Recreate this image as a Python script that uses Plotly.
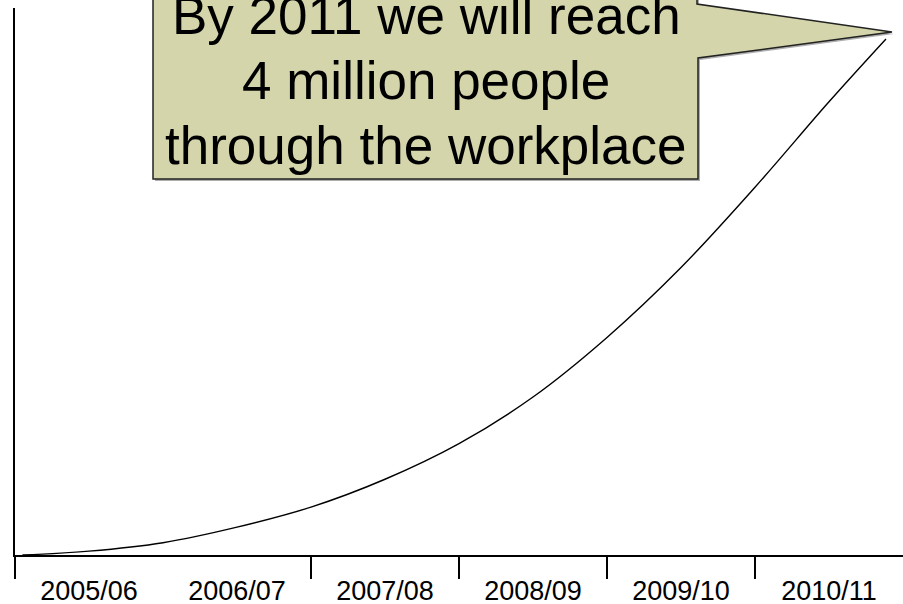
import plotly.graph_objects as go

# ---- data ----
categories = ["2005/06", "2006/07", "2007/08", "2008/09", "2009/10", "2010/11"]
category_pos = [0.5, 1.5, 2.5, 3.5, 4.5, 5.5]
boundary_ticks = [0, 2, 3, 4, 5]

year_pos = [0.05, 0.5, 1.0, 1.5, 2.0, 2.5, 3.0, 3.5, 4.0, 4.5, 5.0, 5.5, 5.885]
people_millions = [0.0, 0.03, 0.095, 0.215, 0.37, 0.585, 0.86, 1.22, 1.68, 2.22, 2.84, 3.50, 3.985]

callout_lines = ["By 2011 we will reach", "4 million people", "through the workplace"]

W, H = 903, 604
ML, MR, MT, MB = 15, 0, 8, 49
PW, PH = W - ML - MR, H - MT - MB


def px(x):
    return (x - ML) / PW


def py(y):
    return (H - MB - y) / PH


fig = go.Figure()
fig.add_trace(go.Scatter(
    x=year_pos, y=people_millions, mode="lines",
    line=dict(color="black", width=1.4, shape="spline", smoothing=1.0),
    hoverinfo="skip", showlegend=False,
))

# callout balloon
pts = [(153, -20), (697, -20), (697, 4), (892, 32), (698, 58), (698, 179), (153, 179)]
shadow = "M " + " L ".join(f"{px(x + 2):.5f},{py(y + 2):.5f}" for x, y in pts) + " Z"
path = "M " + " L ".join(f"{px(x):.5f},{py(y):.5f}" for x, y in pts) + " Z"
fig.add_shape(type="path", path=shadow, xref="paper", yref="paper",
              fillcolor="rgba(120,120,120,0.6)", line=dict(width=0), layer="above")
fig.add_shape(type="path", path=path, xref="paper", yref="paper",
              fillcolor="#D5D5AB", line=dict(color="#222222", width=1.5), layer="above")

baselines = [35, 100, 165]
for txt, b in zip(callout_lines, baselines):
    fig.add_annotation(
        text=txt, xref="paper", yref="paper", x=px(426), y=py(b + 12),
        xanchor="center", yanchor="bottom", showarrow=False,
        font=dict(family="Liberation Sans, Arial, sans-serif", size=53, color="black"),
    )

fig.update_layout(
    width=W, height=H, autosize=False,
    margin=dict(l=ML, r=MR, t=MT, b=MB, pad=0),
    paper_bgcolor="white", plot_bgcolor="white",
    showlegend=False,
    xaxis=dict(
        range=[0, 6], showgrid=False, zeroline=False, automargin=False,
        showline=True, linecolor="black", linewidth=1.5,
        tickmode="array", tickvals=category_pos, ticktext=categories,
        ticks="outside", ticklen=11, tickcolor="rgba(0,0,0,0)",
        tickfont=dict(family="Liberation Sans, Arial", size=27, color="black"),
        minor=dict(tickmode="array", tickvals=boundary_ticks, ticks="outside",
                   ticklen=22, tickcolor="black", tickwidth=1.5, showgrid=False),
    ),
    yaxis=dict(
        range=[0, 4.224], showgrid=False, zeroline=False, automargin=False,
        showline=True, linecolor="black", linewidth=1.5,
        showticklabels=False, ticks="",
    ),
)

fig.write_html(
    "out.html",
    config={"displayModeBar": False},
    post_script="document.body.style.margin='0';document.body.style.padding='0';"
                "document.body.style.overflow='hidden';",
)
